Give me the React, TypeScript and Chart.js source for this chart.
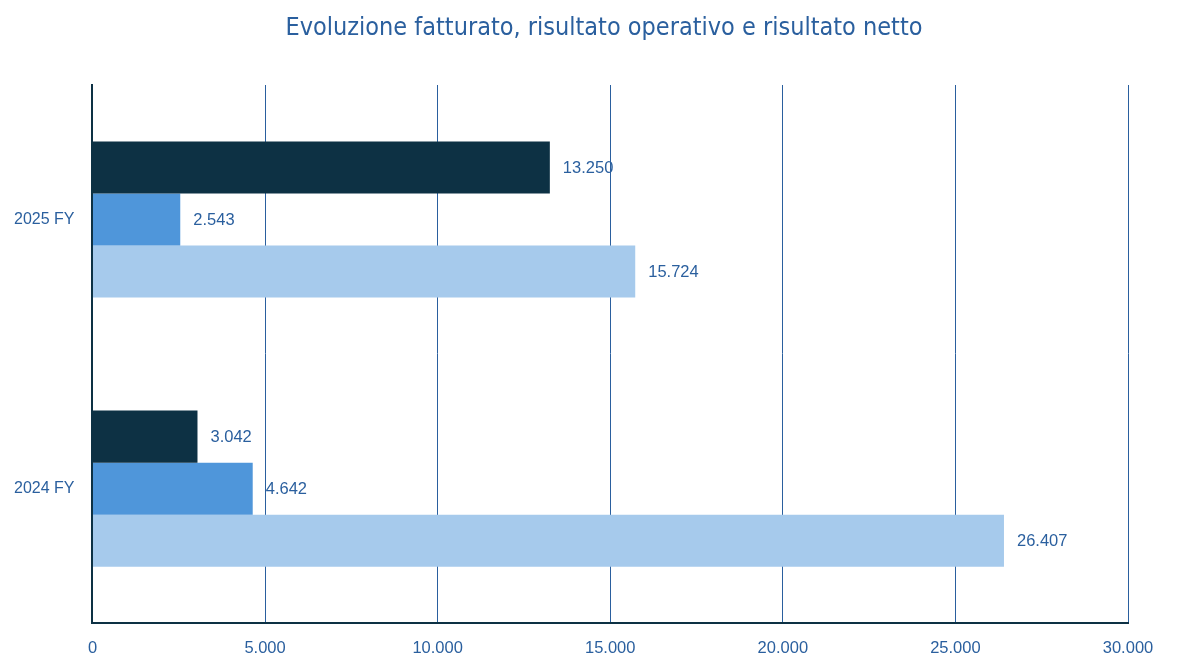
import React, { useEffect, useRef } from "react";
import { Chart, registerables } from "chart.js";

Chart.register(...registerables);

const titleText = "Evoluzione fatturato, risultato operativo e risultato netto";
const categories = ["2025 FY", "2024 FY"];
const seriesNames = ["Risultato operativo", "Risultato netto", "Fatturato"];
const seriesA = [13250, 3042];
const seriesB = [2543, 4642];
const seriesC = [15724, 26407];
const xTicks = [0, 5000, 10000, 15000, 20000, 25000, 30000];

const colors = ["#0d3144", "#4f96da", "#a6caec"];
const textBlue = "#2a5f9e";
const numFont = "16.5px 'Liberation Sans', Arial, sans-serif";

function fmt(v: number): string {
  const s = Math.round(v).toString();
  return s.replace(/\B(?=(\d{3})+(?!\d))/g, ".");
}

const labelPlugin = {
  id: "barLabels",
  afterDatasetsDraw(chart: any) {
    const ctx = chart.ctx;
    ctx.save();
    ctx.font = numFont;
    ctx.fillStyle = textBlue;
    ctx.textAlign = "left";
    ctx.textBaseline = "middle";
    chart.data.datasets.forEach((ds: any, i: number) => {
      const meta = chart.getDatasetMeta(i);
      meta.data.forEach((el: any, j: number) => {
        const v = ds.data[j] as number;
        ctx.fillText(fmt(v), el.x + 13, el.y + 1);
      });
    });
    ctx.restore();
  },
};

const titlePlugin = {
  id: "customTitle",
  afterDraw(chart: any) {
    const ctx = chart.ctx;
    ctx.save();
    ctx.font = "25px 'Liberation Sans Narrow', 'DejaVu Sans Condensed', sans-serif";
    ctx.fillStyle = textBlue;
    ctx.textAlign = "center";
    ctx.textBaseline = "middle";
    ctx.fillText(titleText, 604, 28);
    ctx.restore();
  },
};

export default function App() {
  const ref = useRef<HTMLCanvasElement | null>(null);
  useEffect(() => {
    document.body.style.margin = "0";
    if (!ref.current) return;
    const chart = new Chart(ref.current, {
      type: "bar",
      data: {
        labels: categories,
        datasets: [seriesA, seriesB, seriesC].map((d, i) => ({
          label: seriesNames[i],
          data: d,
          backgroundColor: colors[i],
          borderWidth: 0,
          barPercentage: 1,
          categoryPercentage: 0.58,
        })),
      },
      options: {
        indexAxis: "y",
        animation: false,
        responsive: false,
        layout: { padding: { left: -4, right: 50, top: 85, bottom: -7 } },
        plugins: {
          legend: { display: false },
          tooltip: { enabled: false },
          title: { display: false },
        },
        scales: {
          x: {
            min: 0,
            max: 30000,
            afterBuildTicks: (axis: any) => {
              axis.ticks = xTicks.map((v) => ({ value: v }));
            },
            ticks: {
              color: textBlue,
              font: { family: "'Liberation Sans', Arial, sans-serif", size: 16.5 },
              padding: 15,
              callback: (v: any) => fmt(Number(v)),
            },
            grid: { color: textBlue, lineWidth: 1, drawTicks: false },
            border: { display: true, color: "#0d3144", width: 2 },
          },
          y: {
            ticks: {
              color: textBlue,
              font: { family: "'Liberation Sans', Arial, sans-serif", size: 16 },
              padding: 18,
            },
            grid: { display: false, drawTicks: false },
            border: { display: true, color: "#0d3144", width: 2 },
          },
        },
      },
      plugins: [labelPlugin, titlePlugin],
    } as any);
    return () => chart.destroy();
  }, []);
  return (
    <div style={{ width: 1178, height: 666 }}>
      <canvas ref={ref} width={1178} height={666} style={{ display: "block" }} />
    </div>
  );
}
